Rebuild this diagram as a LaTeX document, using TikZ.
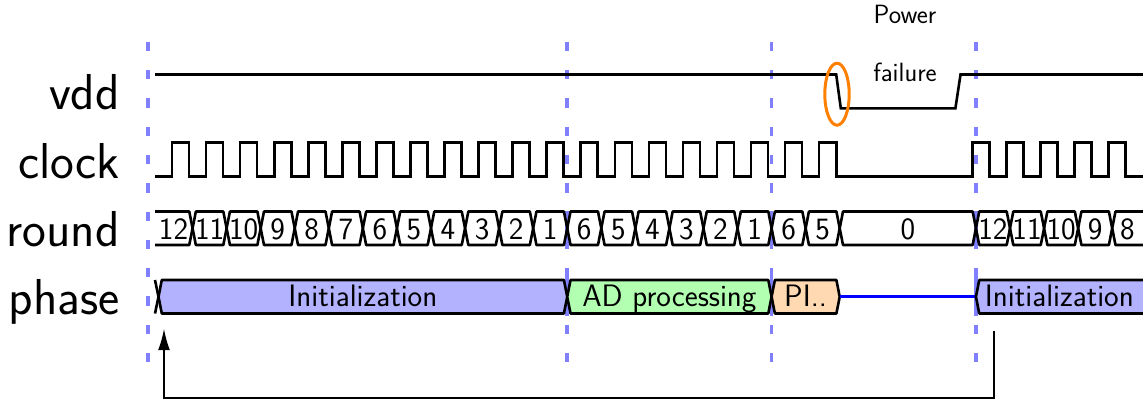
\documentclass[tikz,border=0pt]{standalone}
\usetikzlibrary{arrows.meta}
\begin{document}
% half clock period and round boundaries
\def\u{17.03}
\def\bb#1{(158.5+34.06*(#1))}
\begin{tikzpicture}[x=1pt,y=-1pt,
  sig/.style={line width=2.6pt},
  cell/.style={line width=2.6pt,line join=round},
  guide/.style={blue!50,line width=3.5pt,dash pattern=on 9.3pt off 19pt},
  guideseg/.style={blue!50,line width=3.5pt},
  lbl/.style={font=\fontsize{50.5}{54}\selectfont\sffamily,anchor=base east,inner sep=0pt},
  rtxt/.style={font=\fontsize{31}{33}\selectfont\sffamily,anchor=base,inner sep=0pt},
  ptxt/.style={font=\fontsize{26.4}{28}\selectfont\sffamily,anchor=base,inner sep=0pt},
  initbox/.style={cell,fill=blue!30},
  adbox/.style={cell,fill=green!30},
  pibox/.style={cell,fill=orange!30}]
\useasboundingbox (0,0) rectangle (1145,400);

% vertical phase markers
\foreach \gx in {148,567.2,771.6,975.9}
  \draw[guide] (\gx,41.7) -- (\gx,372);
\foreach \gx in {567.2,771.6,975.9}{
  \draw[guideseg] (\gx,211) -- (\gx,247);
  \draw[guideseg] (\gx,272) -- (\gx,316);
}

% signal names
\node[lbl] (lvdd) at (120,109.8) {vdd};
\node[lbl] (lclk) at (120,178) {clock};
\node[lbl] (lrnd) at (120,246) {round};
\node[lbl] (lph)  at (120,314.5) {phase};

% vdd with the power drop
\draw[sig] (155,74.5) -- ({155+40*\u},74.5) -- ({155+40.27*\u},108.3)
  -- ({155+47*\u},108.3) -- ({155+47.3*\u},74.5) -- ({155+58*\u},74.5);
\draw[orange,line width=3pt] (837,94.2) ellipse [x radius=12.2, y radius=31];
\node[ptxt] (pf1) at (905,23.3) {Power};
\node[ptxt] (pf2) at (905,81.7) {failure};

% clock: running, stopped, restarted
\draw[sig] (155,176.7)
  \foreach \k in {0,...,19}{
    -- ({155+(2*\k+1)*\u},176.7) -- ({155+(2*\k+1)*\u},142.5)
    -- ({155+(2*\k+2)*\u},142.5) -- ({155+(2*\k+2)*\u},176.7)}
  -- ({155+48*\u},176.7)
  \foreach \k in {0,...,4}{
    -- ({155+(48+2*\k)*\u},142.5) -- ({155+(49+2*\k)*\u},142.5)
    -- ({155+(49+2*\k)*\u},176.7) -- ({155+(50+2*\k)*\u},176.7)};

% round counter
\newcommand\rcell[3]{%
  \draw[cell] ({\bb{#1}+3.3},211.5) -- ({\bb{#2}-3.3},211.5) -- ({\bb{#2}},228.25)
    -- ({\bb{#2}-3.3},245) -- ({\bb{#1}+3.3},245) -- ({\bb{#1}},228.25) -- cycle;
  \node[rtxt] (r#1) at ({(\bb{#1}+\bb{#2})/2},239.3) {#3};}
\draw[cell] (155,211.5) -- ({\bb{1}-3.3},211.5) -- ({\bb{1}},228.25)
  -- ({\bb{1}-3.3},245) -- (155,245);
\node[rtxt] (r0) at (173.5,239.3) {12};
\foreach \i/\t in {1/11,2/10,3/9,4/8,5/7,6/6,7/5,8/4,9/3,10/2,11/1,
                   12/6,13/5,14/4,15/3,16/2,17/1,18/6,19/5,24/12,25/11,26/10,27/9}
  {\pgfmathtruncatemacro\j{\i+1}\rcell{\i}{\j}{\t}}
\rcell{20}{24}{0}
\draw[cell] ({155+58*\u},211.5) -- ({\bb{28}+3.3},211.5) -- ({\bb{28}},228.25)
  -- ({\bb{28}+3.3},245) -- ({155+58*\u},245);
\node[rtxt] (r28) at ({(\bb{28}+155+58*\u)/2},239.3) {8};

% phases
\newcommand\pcell[4]{%
  \draw[#4] ({\bb{#1}+3.3},280) -- ({\bb{#2}-3.3},280) -- ({\bb{#2}},296.75)
    -- ({\bb{#2}-3.3},313.5) -- ({\bb{#1}+3.3},313.5) -- ({\bb{#1}},296.75) -- cycle;
  \node[rtxt] (p#1) at ({(\bb{#1}+\bb{#2})/2},306.7) {#3};}
\draw[cell] (155,280) -- ({\bb{0}},296.75) -- (155,313.5);
\pcell{0}{12}{Initialization}{initbox}
\pcell{12}{18}{AD processing}{adbox}
\pcell{18}{20}{PI..}{pibox}
\draw[blue,line width=2.6pt] ({\bb{20}},296.75) -- ({\bb{24}},296.75);
\fill[blue!30] ({155+58*\u},280) -- ({\bb{24}+3.3},280) -- ({\bb{24}},296.75)
  -- ({\bb{24}+3.3},313.5) -- ({155+58*\u},313.5) -- cycle;
\draw[cell] ({155+58*\u},280) -- ({\bb{24}+3.3},280) -- ({\bb{24}},296.75)
  -- ({\bb{24}+3.3},313.5) -- ({155+58*\u},313.5);
\node[rtxt] (p24) at ({(\bb{24}+155+58*\u)/2},306.7) {Initialization};

% restart loop back to the first initialization
\coordinate (loopstart) at (993.5,331);
\coordinate (loopend) at (164,328.5);
\draw[line width=2pt,-{Latex[length=21.7pt,width=12pt]}]
  (loopstart) -- (993.5,398.3) -| (loopend);
\end{tikzpicture}
\end{document}
